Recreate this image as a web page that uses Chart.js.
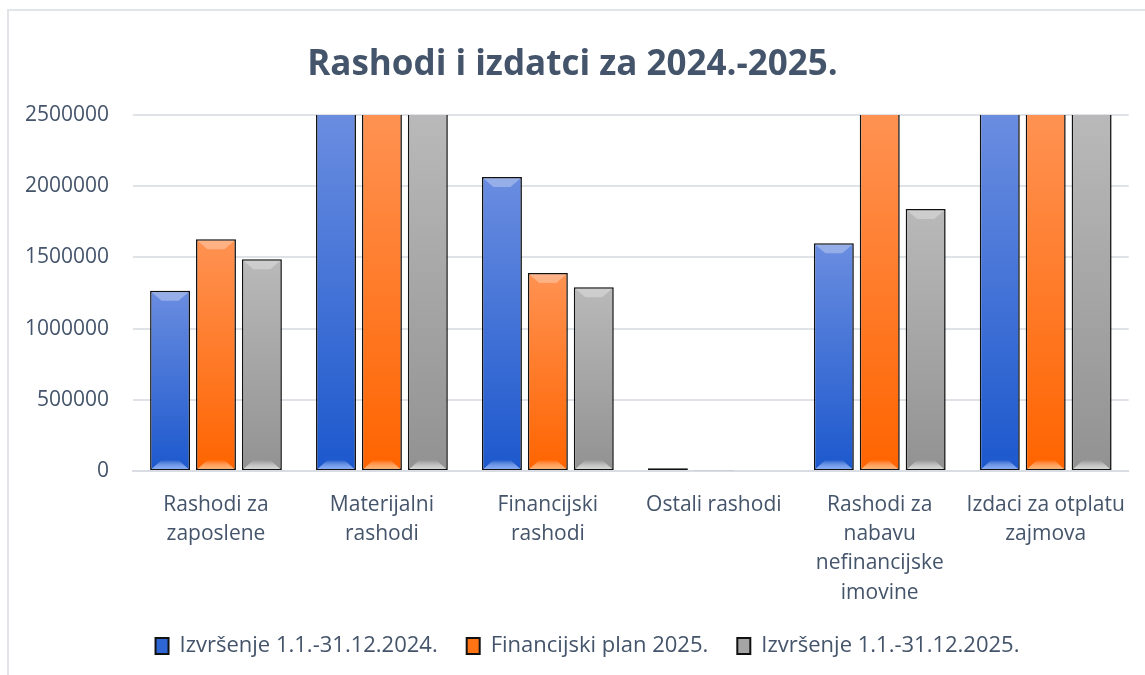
<!DOCTYPE html>
<html>
<head>
<meta charset="utf-8">
<script src="https://cdn.jsdelivr.net/npm/chart.js@4"></script>
<style>
  body { margin: 0; background: #fff; }
  #wrap { position: relative; width: 1145px; height: 675px; overflow: hidden; }
  #frame { position: absolute; left: 7px; top: 9px; width: 1200px; height: 700px;
           border-left: 2px solid #e1e5ea; border-top: 2px solid #e1e5ea; }
  #myChart { position: absolute; left: 0; top: 0; }
</style>
</head>
<body>
<div id="wrap">
  <div id="frame"></div>
  <canvas id="myChart" width="1145" height="675"></canvas>
</div>
<script>
const categories = [
  ["Rashodi za", "zaposlene"],
  ["Materijalni", "rashodi"],
  ["Financijski", "rashodi"],
  "Ostali rashodi",
  ["Rashodi za", "nabavu", "nefinancijske", "imovine"],
  ["Izdaci za otplatu", "zajmova"],
];
const seriesNames = [
  "Izvršenje 1.1.-31.12.2024.",
  "Financijski plan 2025.",
  "Izvršenje 1.1.-31.12.2025.",
];
// values above 2.5M are cut off in the original, so those are guesses
const izvrsenje2024 = [1265000, 4200000, 2065000, 20000, 1600000, 3500000];
const plan2025 = [1628000, 4800000, 1390000, 6000, 3900000, 3600000];
const izvrsenje2025 = [1487000, 4400000, 1290000, 0, 1840000, 3400000];
const yTicks = [0, 500000, 1000000, 1500000, 2000000, 2500000];

const textColor = "#44546a";
const fontFamily = '"Open Sans", sans-serif';

// top / bottom colours of each series + colour of the bevel highlight
const palette = [
  { top: "#6a8de0", bottom: "#1c58cd", flat: "#2e66d4", bevel: "#7eaaff" },
  { top: "#ff9252", bottom: "#ff6400", flat: "#ff7314", bevel: "#ffb26a" },
  { top: "#b9b9b9", bottom: "#929292", flat: "#a5a5a5", bevel: "#dcdcdc" },
];

function barFill(idx) {
  return (context) => {
    const chart = context.chart;
    const c = palette[idx];
    if (context.type !== "data" || !chart.chartArea) return c.flat;
    const y = chart.scales.y;
    const v = Math.min(context.raw, y.max);
    const top = y.getPixelForValue(v);
    const bottom = y.getPixelForValue(0);
    if (bottom - top < 1) return c.flat;
    const g = chart.ctx.createLinearGradient(0, top, 0, bottom);
    g.addColorStop(0, c.top);
    g.addColorStop(1, c.bottom);
    return g;
  };
}

// soft shadow behind the bars, then bevel triangles at top and bottom
const bevelPlugin = {
  id: "bevel",
  beforeDatasetsDraw(chart) {
    const ctx = chart.ctx;
    ctx.save();
    ctx.shadowColor = "rgba(0,0,0,0.18)";
    ctx.shadowBlur = 5;
    ctx.shadowOffsetX = 3;
    ctx.shadowOffsetY = 0;
  },
  afterDatasetsDraw(chart) {
    const ctx = chart.ctx;
    ctx.restore();
    const area = chart.chartArea;
    ctx.save();
    ctx.beginPath();
    ctx.rect(area.left, area.top, area.right - area.left, area.bottom - area.top);
    ctx.clip();
    chart.data.datasets.forEach((ds, i) => {
      const meta = chart.getDatasetMeta(i);
      meta.data.forEach((bar) => {
        const h = bar.base - bar.y;
        if (h < 20) return;
        const l = bar.x - bar.width / 2 + 1.5;
        const r = bar.x + bar.width / 2 - 1.5;
        const d = Math.min(10, (r - l) / 3);
        // bottom
        const g = ctx.createLinearGradient(0, bar.base - 10, 0, bar.base);
        g.addColorStop(0, "rgba(255,255,255,0)");
        g.addColorStop(1, palette[i].bevel);
        ctx.fillStyle = g;
        ctx.beginPath();
        ctx.moveTo(l, bar.base - 1);
        ctx.lineTo(l + d, bar.base - 10);
        ctx.lineTo(r - d, bar.base - 10);
        ctx.lineTo(r, bar.base - 1);
        ctx.closePath();
        ctx.fill();
        // top
        if (bar.y > area.top + 1) {
          ctx.fillStyle = "rgba(255,255,255,0.3)";
          ctx.beginPath();
          ctx.moveTo(l, bar.y + 1.5);
          ctx.lineTo(r, bar.y + 1.5);
          ctx.lineTo(r - d, bar.y + 10);
          ctx.lineTo(l + d, bar.y + 10);
          ctx.closePath();
          ctx.fill();
        }
      });
    });
    ctx.restore();
  },
};

// the legend in the original sits a bit right of the title's centre
const legendShift = {
  id: "legendShift",
  afterLayout(chart) {
    chart.legend.left += 15;
    chart.legend.right += 15;
  },
};

const seriesData = [izvrsenje2024, plan2025, izvrsenje2025];

const ctx = document.getElementById("myChart").getContext("2d");
const chart = new Chart(ctx, {
  type: "bar",
  data: {
    labels: categories,
    datasets: seriesData.map((values, i) => ({
      label: seriesNames[i],
      data: values,
      backgroundColor: barFill(i),
      borderColor: "#111111",
      borderWidth: 1.5,
      borderSkipped: false,
      categoryPercentage: 0.83,
      barPercentage: 0.87,
    })),
  },
  options: {
    responsive: false,
    animation: false,
    layout: { padding: { left: 14, right: 14, top: 0, bottom: 8 } },
    plugins: {
      title: {
        display: true,
        text: "Rashodi i izdatci za 2024.-2025.",
        color: textColor,
        font: { family: fontFamily, size: 35, weight: "bold" },
        padding: { top: 44, bottom: 29 },
      },
      legend: {
        position: "bottom",
        labels: {
          color: textColor,
          font: { family: fontFamily, size: 22 },
          boxWidth: 13,
          boxHeight: 16,
          padding: 29,
          generateLabels(chart) {
            return chart.data.datasets.map((ds, i) => ({
              text: ds.label,
              fillStyle: palette[i].flat,
              strokeStyle: "#111111",
              lineWidth: 2,
              fontColor: textColor,
              datasetIndex: i,
            }));
          },
        },
      },
      tooltip: { enabled: false },
    },
    scales: {
      x: {
        grid: { display: false, drawTicks: false },
        border: { display: true, color: "#d9dde3", width: 2 },
        ticks: {
          color: textColor,
          font: { family: fontFamily, size: 21, lineHeight: 1.4 },
          maxRotation: 0,
          autoSkip: false,
          padding: 19,
        },
        afterFit(scale) { scale.height = 135; },
      },
      y: {
        min: 0,
        max: 2500000,
        afterBuildTicks(scale) { scale.ticks = yTicks.map((v) => ({ value: v })); },
        grid: { color: "#dfe3e8", lineWidth: 2, drawTicks: false },
        border: { display: false },
        ticks: {
          color: textColor,
          font: { family: fontFamily, size: 21 },
          padding: 24,
          callback: (v) => String(v),
        },
        afterFit(scale) { scale.width = 119; },
      },
    },
  },
  plugins: [bevelPlugin, legendShift],
});
</script>
</body>
</html>
